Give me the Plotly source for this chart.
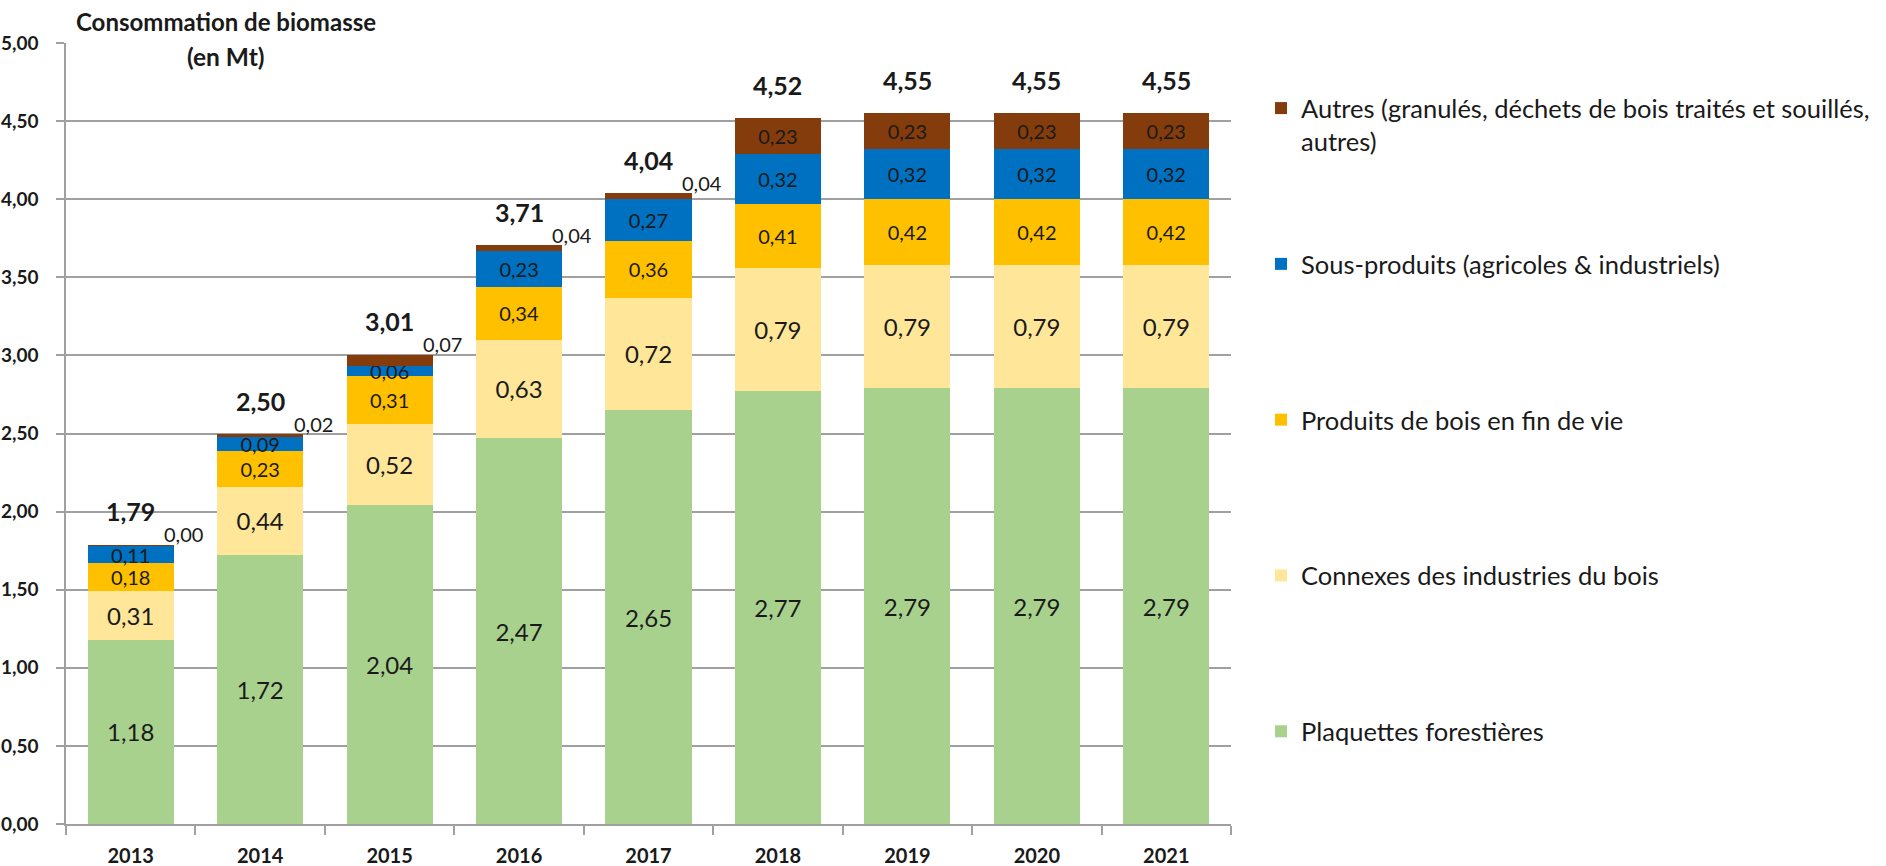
import plotly.graph_objects as go

years = ["2013", "2014", "2015", "2016", "2017", "2018", "2019", "2020", "2021"]
plaquettes = [1.18, 1.72, 2.04, 2.47, 2.65, 2.77, 2.79, 2.79, 2.79]
connexes = [0.31, 0.44, 0.52, 0.63, 0.72, 0.79, 0.79, 0.79, 0.79]
produits_fin_vie = [0.18, 0.23, 0.31, 0.34, 0.36, 0.41, 0.42, 0.42, 0.42]
sous_produits = [0.11, 0.09, 0.06, 0.23, 0.27, 0.32, 0.32, 0.32, 0.32]
autres = [0.004, 0.02, 0.07, 0.04, 0.04, 0.23, 0.23, 0.23, 0.23]
totals = [1.79, 2.50, 3.01, 3.71, 4.04, 4.52, 4.55, 4.55, 4.55]

names = [
    "Plaquettes forestières",
    "Connexes des industries du bois",
    "Produits de bois en fin de vie",
    "Sous-produits (agricoles & industriels)",
    "Autres (granulés, déchets de bois traités et souillés,<br>autres)",
]
colors = ["#A9D18E", "#FFE699", "#FFC000", "#0070C0", "#843C0C"]
series = [plaquettes, connexes, produits_fin_vie, sous_produits, autres]
label_sizes = [24, 24, 20, 20, 20]

FONT = "Lato, 'Open Sans', sans-serif"
TXT = "#1a1a1a"


def fr(v):
    return f"{v:.2f}".replace(".", ",")


fig = go.Figure()
for i, (name, col, vals, fs) in enumerate(zip(names, colors, series, label_sizes)):
    if i == 4:
        texts = [fr(v) if v >= 0.1 else "" for v in vals]
    else:
        texts = [fr(v) for v in vals]
    legend_name = name if "<br>" in name else name + "<br> "
    fig.add_trace(go.Bar(
        x=years, y=vals, name=legend_name, marker=dict(color=col, line=dict(width=0)),
        text=texts, textposition="inside", insidetextanchor="middle",
        constraintext="none", textangle=0,
        textfont=dict(family=FONT, size=fs, color=TXT),
        legendgroup=f"g{i}", legendrank=len(names) - i, hoverinfo="skip",
    ))

annotations = []
# totals above bars
for idx, t in enumerate(totals):
    annotations.append(dict(
        x=idx, y=t, xref="x", yref="y", text=fr(t), showarrow=False,
        yshift=33, font=dict(family=FONT, size=25, color=TXT, weight="bold"),
    ))
# small "Autres" values shown outside, top-right of bar
for idx, (t, a) in enumerate(zip(totals, autres)):
    if a < 0.1:
        annotations.append(dict(
            x=idx, y=t, xref="x", yref="y", text=fr(round(a, 2)), showarrow=False,
            xshift=53, yshift=10, font=dict(family=FONT, size=20, color=TXT),
        ))
annotations.append(dict(
    x=(226 - 66) / 1165, y=(824 - 22) / 781, xref="paper", yref="paper",
    text="Consommation de biomasse", showarrow=False, xanchor="center", yanchor="middle",
    font=dict(family=FONT, size=24, color=TXT, weight="bold"),
))
annotations.append(dict(
    x=(226 - 66) / 1165, y=(824 - 57) / 781, xref="paper", yref="paper",
    text="(en Mt)", showarrow=False, xanchor="center", yanchor="middle",
    font=dict(family=FONT, size=24.5, color=TXT, weight="bold"),
))

GRID = "#a0a0a0"
fig.update_layout(
    width=1886, height=866,
    margin=dict(l=66, r=655, t=43, b=42, autoexpand=False),
    barmode="stack", bargap=0.335,
    plot_bgcolor="white", paper_bgcolor="white",
    separators=", ",
    font=dict(family=FONT, color=TXT),
    annotations=annotations,
    showlegend=True,
    legend=dict(
        x=(1261 - 66) / 1165, xanchor="left", y=(824 - 85) / 781, yanchor="top",
        traceorder="grouped", tracegroupgap=86.5, valign="top",
        font=dict(family=FONT, size=25.5, color=TXT),
        bgcolor="rgba(0,0,0,0)", itemclick=False, itemdoubleclick=False,
    ),
    xaxis=dict(
        type="category", tickson="boundaries", ticks="outside", ticklen=9,
        tickcolor=GRID, tickwidth=1.5, showline=True, linecolor=GRID, linewidth=1.5,
        showgrid=False, range=[-0.5, 8.5], automargin=False,
        tickfont=dict(family=FONT, size=20, color=TXT, weight="bold"),
        ticklabelstandoff=13,
    ),
    yaxis=dict(
        range=[0, 5], dtick=0.5, tick0=0, tickformat=".2f", automargin=False,
        ticks="outside", ticklen=8, tickcolor=GRID, tickwidth=1.5,
        showline=True, linecolor=GRID, linewidth=1.5,
        showgrid=True, gridcolor=GRID, gridwidth=1.5, zeroline=False,
        tickfont=dict(family=FONT, size=19, color=TXT, weight="bold"),
        ticklabelstandoff=14,
    ),
)

fig.write_html(
    "out.html",
    config={"displayModeBar": False},
    post_script="document.body.style.margin='0';document.body.style.overflow='hidden';",
)
